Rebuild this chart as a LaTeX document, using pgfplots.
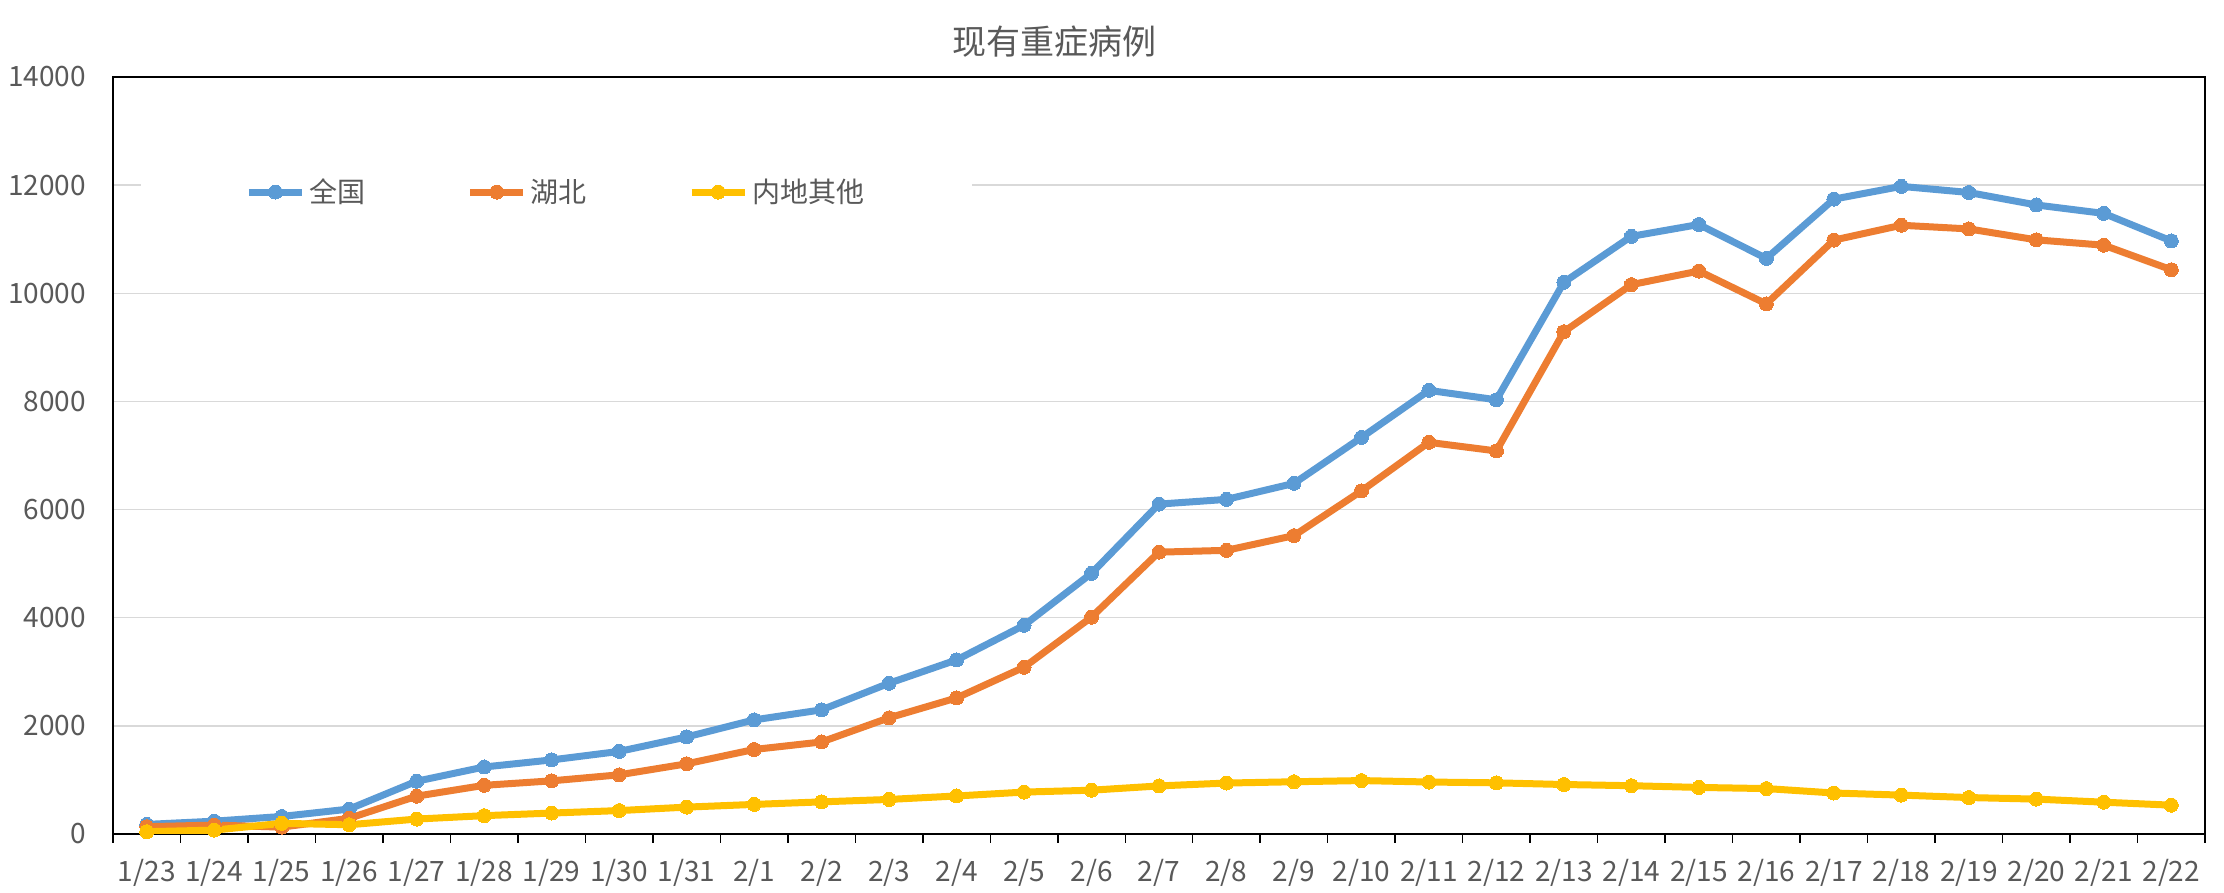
\documentclass[border=0pt]{standalone}
\usepackage{pgfplots}
\pgfplotsset{compat=1.18}
\usepackage{pgfplotstable}
\usepackage{fontspec}
\setmainfont{Noto Sans CJK SC}
\definecolor{cN}{HTML}{5B9BD5}
\definecolor{cH}{HTML}{ED7D31}
\definecolor{cO}{HTML}{FFC000}
\definecolor{txt}{HTML}{595959}
\definecolor{grd}{HTML}{D9D9D9}

\pgfplotstableread{
x N H O
0 177 135 42
1 237 165 72
2 324 127 197
3 461 290 171
4 976 700 276
5 1239 900 339
6 1370 983 387
7 1527 1094 433
8 1795 1298 497
9 2110 1563 547
10 2296 1702 594
11 2788 2149 639
12 3219 2516 703
13 3859 3084 775
14 4821 4011 810
15 6101 5212 889
16 6188 5246 942
17 6484 5518 966
18 7333 6345 988
19 8204 7243 961
20 8030 7084 946
21 10204 9289 915
22 11053 10160 893
23 11272 10411 861
24 10644 9804 840
25 11741 10983 758
26 11977 11258 719
27 11864 11190 674
28 11633 10988 645
29 11477 10889 588
30 10968 10435 533
}\data

\begin{document}
\begin{tikzpicture}
\fill[white] (0,0) rectangle (1112pt,446.5pt);
\begin{axis}[
  at={(56.5pt,29.5pt)}, anchor=south west,
  scale only axis, width=1046pt, height=378.5pt,
  xmin=-0.5, xmax=30.5, ymin=0, ymax=14000,
  ytick={0,2000,...,14000},
  xtick={0,...,30},
  xticklabels={1/23,1/24,1/25,1/26,1/27,1/28,1/29,1/30,1/31,2/1,2/2,2/3,2/4,2/5,2/6,2/7,2/8,2/9,2/10,2/11,2/12,2/13,2/14,2/15,2/16,2/17,2/18,2/19,2/20,2/21,2/22},
  minor xtick={-0.5,0.5,...,30.5},
  major tick length=0pt, minor tick length=4.5pt,
  tick align=outside,
  xtick pos=lower, ytick pos=left,
  tick style={black, line width=0.75pt},
  ymajorgrids, major grid style={grd, line width=0.75pt},
  axis line style={black, line width=1pt},
  scaled y ticks=false,
  /pgf/number format/1000 sep={},
  /pgf/number format/assume math mode=true,
  ticklabel style={font=\fontsize{14}{16}\selectfont, text=txt},
  xticklabel style={yshift=-9pt},
  yticklabel style={xshift=-10pt},
  legend columns=3,
  legend style={at={(0.01338,0.848)}, anchor=west, draw=none, fill=white,
    inner xsep=52pt, inner ysep=4pt, font=\fontsize{14}{16}\selectfont, text=txt,
    /tikz/every even column/.append style={column sep=48.7pt}},
  legend image code/.code={\draw[mark repeat=2,mark phase=2,#1] plot coordinates {(0pt,0pt) (13.25pt,0pt) (26.5pt,0pt)};},
  every axis plot/.append style={line width=3.5pt, mark=*, mark size=3.5pt},
]
\addplot[cN, mark options={fill=cN, draw=cN, line width=0pt}] table[x=x,y=N]{\data};
\addlegendentry{全国}
\addplot[cH, mark options={fill=cH, draw=cH, line width=0pt}] table[x=x,y=H]{\data};
\addlegendentry{湖北}
\addplot[cO, mark options={fill=cO, draw=cO, line width=0pt}] table[x=x,y=O]{\data};
\addlegendentry{内地其他}
\end{axis}
\node[font=\fontsize{17}{20}\selectfont, text=txt] at (527pt,425.5pt) {现有重症病例};
\pgfresetboundingbox
\useasboundingbox (0,0) rectangle (1112pt,446.5pt);
\end{tikzpicture}
\end{document}
